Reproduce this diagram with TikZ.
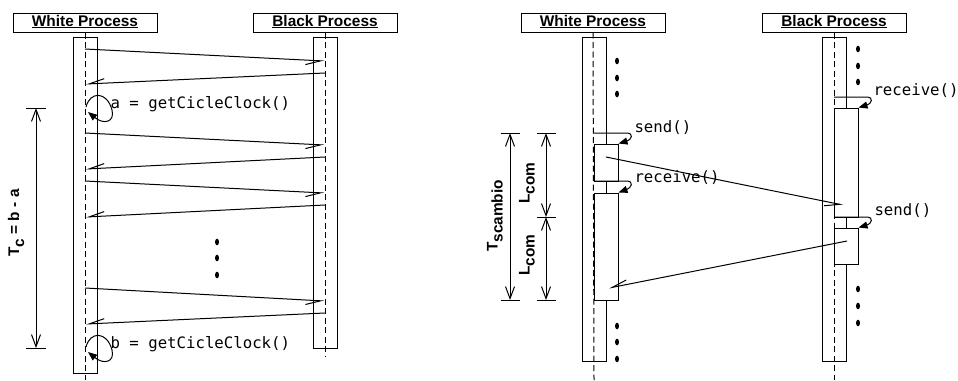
\documentclass[tikz,border=0pt]{standalone}
\usepackage{fontspec}
\setsansfont{Liberation Sans}
\setmonofont{DejaVu Sans Mono}
\usetikzlibrary{arrows.meta}
\newcommand{\lowsub}[1]{\raisebox{-5pt}{#1}}

\begin{document}
\begin{tikzpicture}[x=1pt,y=-1pt,line width=1pt,
    title/.style={draw,fill=white,minimum width=144pt,minimum height=19pt,inner sep=0pt,
      text height=11pt,text depth=4pt,font=\fontsize{15.4}{18}\selectfont\sffamily\bfseries},
    act/.style={draw,fill=white,minimum width=24pt,inner sep=0pt},
    lifeline/.style={dash pattern=on 6pt off 3.5pt},
    msg/.style={-{Straight Barb[right,length=15pt,width=9pt]}},
    call/.style={-{Triangle[length=9pt,width=7pt]}},
    dim/.style={{Straight Barb[length=12pt,width=9pt]}-{Straight Barb[length=12pt,width=9pt]}},
    dimlabel/.style={rotate=90,inner sep=0pt,font=\fontsize{15.4}{18}\selectfont\sffamily\bfseries},
    code/.style={anchor=west,inner sep=0pt,font=\fontsize{15.7}{18}\selectfont\ttfamily}
  ]
  \useasboundingbox (0,0) rectangle (958,380);

  % left: cycle time
  \node[title] (wt1) at (85,22.5) {\underline{White Process}};
  \node[title] (bt1) at (325,22.5) {\underline{Black Process}};
  \node[act,minimum height=336pt] (wa1) at (85,205) {};
  \node[act,minimum height=311pt] (ba1) at (325,192.5) {};
  \coordinate (wl1) at (85,380);
  \coordinate (bl1) at (325,357);
  \draw[lifeline] (wt1.south) -- (wl1);
  \draw[lifeline] (bt1.south) -- (bl1);

  \foreach \i/\ys/\ye in {1/49/61,2/133/145,3/181/193,4/288/301}{
    \coordinate (ws\i) at (85,\ys);
    \coordinate (be\i) at (324,\ye);
    \draw[msg] (ws\i) -- (be\i);
  }
  \foreach \i/\ys/\ye in {1/73/84,2/157/169,3/205/217,4/313/324}{
    \coordinate (bs\i) at (325,\ys);
    \coordinate (we\i) at (86,\ye);
    \draw[msg] (bs\i) -- (we\i);
  }
  \foreach \y in {242,258,275}
    \fill (217,\y) ellipse [x radius=2pt,y radius=3.3pt];

  \node[code] (clka) at (110,104) {a = getCicleClock()};
  \coordinate (a0) at (86,107);
  \coordinate (a1) at (88,112);
  \draw[call] (a0) .. controls (90,91) and (107,91) .. (112,110)
    .. controls (115,122) and (104,125) .. (a1);
  \node[code] (clkb) at (110,344) {b = getCicleClock()};
  \coordinate (b0) at (86,347);
  \coordinate (b1) at (88,352);
  \draw[call] (b0) .. controls (90,331) and (107,331) .. (112,350)
    .. controls (115,362) and (104,365) .. (b1);

  \coordinate (tc0) at (36,108);
  \coordinate (tc1) at (36,348);
  \draw (tc0) ++(-10,0) -- ++(20,0);
  \draw (tc1) ++(-10,0) -- ++(20,0);
  \draw[dim] (tc0) -- (tc1);
  \node[dimlabel] (tc) at (16,223) {T\lowsub{c} = b - a};

  % right: exchange time
  \node[title] (wt2) at (593,22.5) {\underline{White Process}};
  \node[title] (bt2) at (834,22.5) {\underline{Black Process}};
  \node[act,minimum height=324pt] (wa2) at (594,199) {};
  \node[act,minimum height=324pt] (ba2) at (834.5,199) {};
  \coordinate (wl2) at (594,380);
  \coordinate (bl2) at (834,380);
  \draw[lifeline] (wt2.south) -- (wl2);
  \draw[lifeline] (bt2.south) -- (bl2);

  \node[act,minimum height=37pt] (snd1) at (606,162.5) {};
  \node[act,minimum height=107pt] (rcv1) at (606,246.5) {};
  \node[act,minimum height=109pt] (rcv2) at (846,162.5) {};
  \node[act,minimum height=36pt] (snd2) at (846,246) {};

  \foreach \y in {61,78,94,326,342,359}
    \fill (617,\y) ellipse [x radius=2pt,y radius=3.3pt];
  \foreach \y in {49,66,82,289,306,323}
    \fill (858,\y) ellipse [x radius=2pt,y radius=3.3pt];

  \coordinate (c1) at (594,133);
  \coordinate (c2) at (594,181);
  \coordinate (c3) at (834,97);
  \coordinate (c4) at (834,217);
  \draw[call] (c1) -- (626,133) .. controls (635,133) and (631,140) .. (snd1.north east);
  \draw[call] (c2) -- (626,181) .. controls (635,181) and (631,188) .. (rcv1.north east);
  \draw[call] (c3) -- (866,97) .. controls (875,97) and (871,104) .. (rcv2.north east);
  \draw[call] (c4) -- (866,217) .. controls (875,217) and (871,224) .. (snd2.north east);
  \node[code] (tsnd1) at (634,128) {send()};
  \node[code] (trcv1) at (634,178) {receive()};
  \node[code] (trcv2) at (873,91) {receive()};
  \node[code] (tsnd2) at (874,211) {send()};

  \coordinate (m1) at (606,157);
  \coordinate (m2) at (843,205);
  \draw[msg] (m1) -- (m2);
  \coordinate (m3) at (847,241);
  \coordinate (m4) at (609,288);
  \draw[msg] (m3) -- (m4);

  \coordinate (ts0) at (510,133);
  \coordinate (ts1) at (510,300);
  \coordinate (lc0) at (546,133);
  \coordinate (lc1) at (546,217);
  \coordinate (lc2) at (546,300);
  \foreach \p in {ts0,ts1,lc0,lc1,lc2}
    \draw (\p) ++(-9.5,0) -- ++(19,0);
  \draw[dim] (ts0) -- (ts1);
  \draw[dim] (lc0) -- (lc1);
  \draw[dim] (lc1) -- (lc2);
  \node[dimlabel] (tsc) at (495,216) {T\lowsub{scambio}};
  \node[dimlabel] (lcu) at (527,183) {L\lowsub{com}};
  \node[dimlabel] (lcl) at (527,255) {L\lowsub{com}};
\end{tikzpicture}
\end{document}
